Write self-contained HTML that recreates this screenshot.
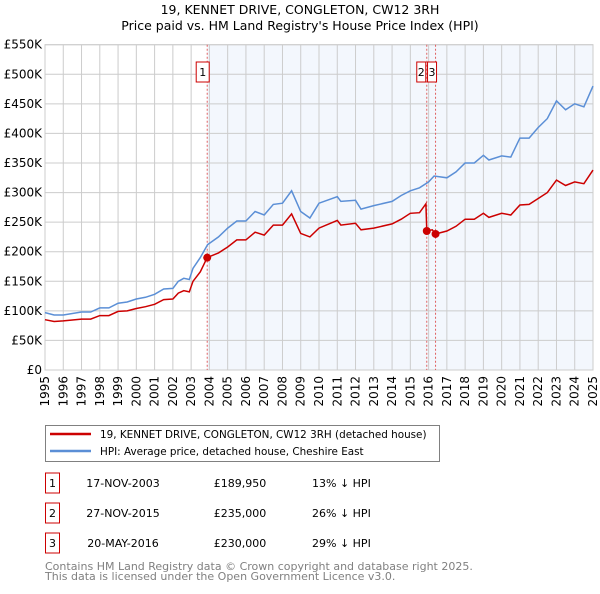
<!DOCTYPE html>
<html><head><meta charset="utf-8"><style>
body{margin:0;background:#fff;width:600px;height:590px;overflow:hidden;font-family:"DejaVu Sans","Liberation Sans",sans-serif}
svg text{font-family:"DejaVu Sans","Liberation Sans",sans-serif}
</style></head><body>
<svg id="c" width="600" height="590">
<text x="300" y="14" text-anchor="middle" font-size="12.5">19, KENNET DRIVE, CONGLETON, CW12 3RH</text>
<text x="300" y="30" text-anchor="middle" font-size="12.5">Price paid vs. HM Land Registry's House Price Index (HPI)</text>
<g id="plot"></g>
<g>
<rect x="45.5" y="425.5" width="394" height="36" fill="#fff" stroke="#808080"/>
<line x1="50" y1="434" x2="91" y2="434" stroke="#cc0000" stroke-width="2.5"/>
<text x="100" y="438" font-size="10.4">19, KENNET DRIVE, CONGLETON, CW12 3RH (detached house)</text>
<line x1="50" y1="451" x2="91" y2="451" stroke="#5b8fd6" stroke-width="2.5"/>
<text x="100" y="455" font-size="10.4">HPI: Average price, detached house, Cheshire East</text>
</g>
<g id="table" font-size="11"></g>
<text x="45" y="570" font-size="11" fill="#808080">Contains HM Land Registry data © Crown copyright and database right 2025.</text>
<text x="45" y="580" font-size="11" fill="#808080">This data is licensed under the Open Government Licence v3.0.</text>
</svg>
<script>
const hpiYears=[1995,1995.5,1996,1997,1997.5,1998,1998.5,1999,1999.5,2000,2000.5,2001,2001.5,2002,2002.3,2002.6,2002.9,2003.1,2003.5,2003.9,2004.5,2005,2005.5,2006,2006.5,2007,2007.5,2008,2008.5,2009,2009.5,2010,2011,2011.2,2012,2012.3,2013,2014,2014.5,2015,2015.5,2016,2016.3,2017,2017.5,2018,2018.5,2019,2019.3,2020,2020.5,2021,2021.5,2022,2022.5,2023,2023.5,2024,2024.5,2025];
const hpiValues=[97,93,93,98,98,105,105,113,115,120,123,128,137,138,150,155,153,172,190,212,225,240,252,252,268,262,280,282,303,268,257,282,293,285,287,272,278,285,295,303,308,318,328,325,335,350,350,363,355,362,360,392,392,410,425,455,440,450,445,480];
const redYears=[1995,1995.5,1996,1997,1997.5,1998,1998.5,1999,1999.5,2000,2000.5,2001,2001.5,2002,2002.3,2002.6,2002.9,2003.1,2003.5,2003.88,2004.5,2005,2005.5,2006,2006.5,2007,2007.5,2008,2008.5,2009,2009.5,2010,2011,2011.2,2012,2012.3,2013,2014,2014.5,2015,2015.5,2015.85,2015.9,2016.2,2016.38,2017,2017.5,2018,2018.5,2019,2019.3,2020,2020.5,2021,2021.5,2022,2022.5,2023,2023.5,2024,2024.5,2025];
const redValues=[85,82,83,86,86,92,92,99,100,104,107,111,119,120,130,134,132,150,166,190,198,208,220,220,233,228,245,245,264,231,225,240,253,245,248,237,240,247,255,265,266,281,235,237,230,235,243,255,255,265,258,265,262,279,280,290,300,321,312,318,315,338];
const saleYears=[2003.88,2015.9,2016.38];
const saleValues=[189950,235000,230000];
const saleLabels=["1","2","3"];
const saleDates=["17-NOV-2003","27-NOV-2015","20-MAY-2016"];
const salePrices=["£189,950","£235,000","£230,000"];
const saleDiffs=["13% ↓ HPI","26% ↓ HPI","29% ↓ HPI"];
const yTicks=[0,50,100,150,200,250,300,350,400,450,500,550];
const yTickLabels=["£0","£50K","£100K","£150K","£200K","£250K","£300K","£350K","£400K","£450K","£500K","£550K"];
const xTicks=[1995,1996,1997,1998,1999,2000,2001,2002,2003,2004,2005,2006,2007,2008,2009,2010,2011,2012,2013,2014,2015,2016,2017,2018,2019,2020,2021,2022,2023,2024,2025];

const NS="http://www.w3.org/2000/svg";
const L=45,R=593,T=44.7,B=370;
const X=y=>L+(y-1995)*(R-L)/30;
const Y=v=>B-v*(B-T)/550;
const g=document.getElementById('plot');
function mk(tag,at,parent){const e=document.createElementNS(NS,tag);for(const k in at)e.setAttribute(k,at[k]);(parent||g).appendChild(e);return e;}

let sh=mk('rect',{x:X(saleYears[0]),y:T,width:R-X(saleYears[0]),height:B-T,fill:'#eef3fc',opacity:0.7});


yTicks.forEach((v,i)=>{
 let l=mk('line',{x1:L,x2:R,y1:Y(v),y2:Y(v),stroke:'#cccccc'});
 
 
 let t=mk('text',{x:L-3,y:Y(v)+4,'text-anchor':'end','font-size':'12'});
 t.textContent=yTickLabels[i];
 
 
});
xTicks.forEach(yr=>{
 let l=mk('line',{x1:X(yr),x2:X(yr),y1:T,y2:B,stroke:'#cccccc'});
 
 
 let t=mk('text',{x:0,y:0,'text-anchor':'end','font-size':'12',transform:`translate(${X(yr)+4},${B+6}) rotate(-90)`});
 t.textContent=yr;
 
 
});
let fr=mk('rect',{x:L,y:T,width:R-L,height:B-T,fill:'none',stroke:'#cccccc'});


saleYears.forEach((yr,i)=>{
 let l=mk('line',{x1:X(yr),x2:X(yr),y1:T,y2:B,stroke:'#e06060','stroke-dasharray':'2,2'});
 
 
});
const pts=(xs,vs)=>xs.map((x,i)=>X(x).toFixed(1)+','+Y(vs[i]).toFixed(1)).join(' ');
let hl=mk('polyline',{points:pts(hpiYears,hpiValues),fill:'none',stroke:'#5b8fd6','stroke-width':1.5});


let rl=mk('polyline',{points:pts(redYears,redValues),fill:'none',stroke:'#cc0000','stroke-width':1.5});


saleYears.forEach((yr,i)=>{
 let c=mk('circle',{cx:X(yr),cy:Y(saleValues[i]/1000),r:4,fill:'#cc0000'});
 
 
});
const boxX=[X(saleYears[0])-11,X(saleYears[1])-10,X(saleYears[2])-8];
saleYears.forEach((yr,i)=>{
 let gg=mk('g',{});
 
 
 mk('rect',{x:boxX[i],y:62,width:i==0?13:9,height:20,fill:'#fff',stroke:'#cc0000'},gg);
 let t=mk('text',{x:boxX[i]+(i==0?6.5:4.5),y:76,'text-anchor':'middle','font-size':'11'},gg);
 t.textContent=saleLabels[i];
});
const tb=document.getElementById('table');
const rowY=[483,513,543];
saleLabels.forEach((s,i)=>{
 let gg=mk('g',{},tb);
 
 
 mk('rect',{x:45.5,y:rowY[i]-10,width:14,height:20,fill:'#fff',stroke:'#cc0000'},gg);
 let t=mk('text',{x:52.5,y:rowY[i]+4,'text-anchor':'middle'},gg);t.textContent=s;
 let d=mk('text',{x:123,y:rowY[i]+4,'text-anchor':'middle'},gg);d.textContent=saleDates[i];
 let p=mk('text',{x:240,y:rowY[i]+4,'text-anchor':'middle'},gg);p.textContent=salePrices[i];
 let h=mk('text',{x:312,y:rowY[i]+4},gg);h.textContent=saleDiffs[i];
});
</script>
</body></html>
